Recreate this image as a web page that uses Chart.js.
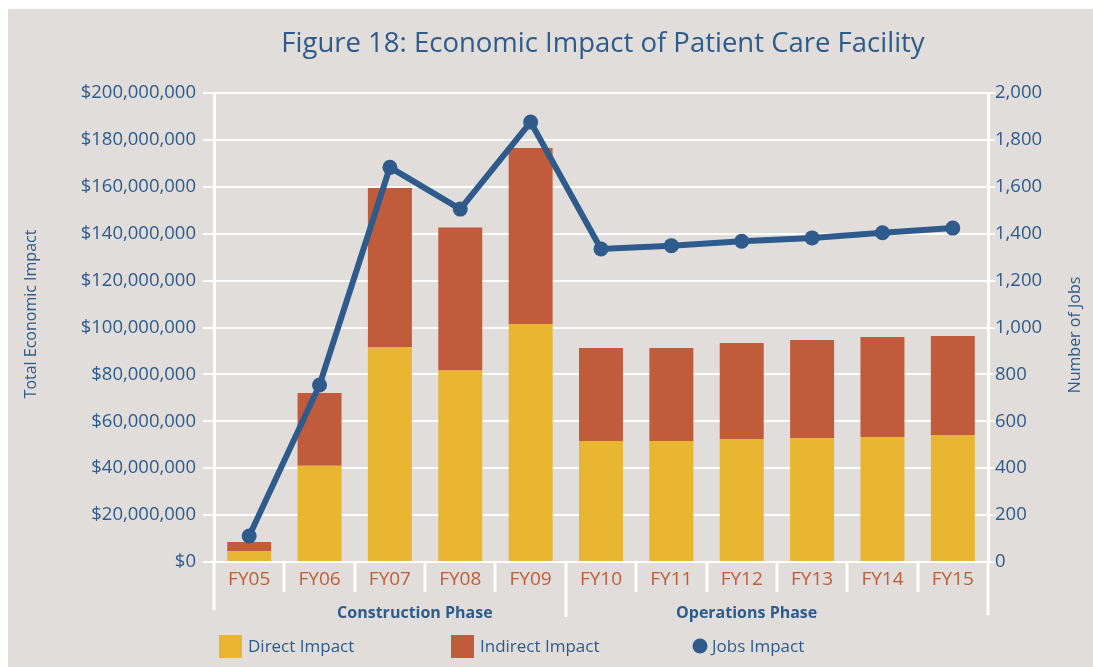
<!DOCTYPE html>
<html>
<head>
<meta charset="utf-8">
<script src="https://cdn.jsdelivr.net/npm/chart.js@4/dist/chart.umd.min.js"></script>
<style>
    html, body { margin: 0; padding: 0; background: #fff; }
    #wrap { position: absolute; left: 0; top: 0; width: 1093px; height: 667px; }
</style>
</head>
<body>
<div id="wrap"><canvas id="mainChart" width="1093" height="667"></canvas></div>
<script>
// values
const categories = ['FY05', 'FY06', 'FY07', 'FY08', 'FY09', 'FY10', 'FY11', 'FY12', 'FY13', 'FY14', 'FY15'];
const directImpact = [4700000, 41000000, 91700000, 81700000, 101500000, 51600000, 51600000, 52500000, 52900000, 53300000, 54200000];
const indirectImpact = [3800000, 31100000, 67800000, 60900000, 75000000, 39700000, 39700000, 40900000, 41800000, 42600000, 42200000];
const jobsImpact = [111, 755, 1683, 1505, 1876, 1335, 1349, 1368, 1382, 1404, 1424];
const dollarTicks = [0, 200000000, 20000000];   // min, max, step
const jobTicks = [0, 2000, 200];
const phases = [
    { label: 'Construction Phase', at: 2.355 },
    { label: 'Operations Phase', at: 7.07 }
];

const BG = '#E0DDDA';
const BLUE = '#2E5B8C';
const YELLOW = '#E9B632';
const RED = '#C05C3B';
const FONT = "'Open Sans', 'Noto Sans', sans-serif";

// background, title, axis titles, category dividers, phase labels and legend
const decorPlugin = {
    id: 'decor',
    beforeDraw(chart) {
        const ctx = chart.ctx;
        ctx.save();
        ctx.fillStyle = BG;
        ctx.fillRect(8, 9, chart.width - 8, chart.height - 9);
        ctx.restore();
    },
    afterDraw(chart) {
        const ctx = chart.ctx;
        const area = chart.chartArea;
        const x = chart.scales.x;
        const step = x.getPixelForValue(1) - x.getPixelForValue(0);
        ctx.save();

        // title
        ctx.fillStyle = BLUE;
        ctx.font = `27.5px ${FONT}`;
        ctx.textAlign = 'center';
        ctx.textBaseline = 'alphabetic';
        ctx.fillText('Figure 18: Economic Impact of Patient Care Facility', 603, 52);

        // axis titles (both read bottom to top)
        ctx.font = `16px ${FONT}`;
        ctx.textBaseline = 'middle';
        ctx.save();
        ctx.translate(31, 314);
        ctx.rotate(-Math.PI / 2);
        ctx.fillText('Total Economic Impact', 0, 0);
        ctx.restore();
        ctx.save();
        ctx.translate(1075, 335);
        ctx.rotate(-Math.PI / 2);
        ctx.fillText('Number of Jobs', 0, 0);
        ctx.restore();

        // dividers under the plot
        ctx.strokeStyle = '#fff';
        ctx.lineWidth = 3;
        for (let i = -1; i < categories.length; i++) {
            const px = Math.round(x.getPixelForValue(i) + step / 2);
            let bottom = area.bottom + 30;
            if (i === -1) bottom = area.bottom + 48;
            if (i === 4) bottom = area.bottom + 55;
            if (i === categories.length - 1) bottom = area.bottom + 53;
            ctx.beginPath();
            ctx.moveTo(px, area.bottom);
            ctx.lineTo(px, bottom);
            ctx.stroke();
        }

        // phase labels
        ctx.fillStyle = BLUE;
        ctx.font = `bold 16px ${FONT}`;
        ctx.textBaseline = 'alphabetic';
        phases.forEach(p => {
            ctx.fillText(p.label, x.getPixelForValue(p.at), 618);
        });

        // legend
        const ds = chart.data.datasets;
        ctx.font = `17px ${FONT}`;
        ctx.textAlign = 'left';
        ctx.fillStyle = ds[0].backgroundColor;
        ctx.fillRect(219, 635, 23, 23);
        ctx.fillStyle = BLUE;
        ctx.fillText(ds[0].label, 248, 652);
        ctx.fillStyle = ds[1].backgroundColor;
        ctx.fillRect(451, 635, 23, 23);
        ctx.fillStyle = BLUE;
        ctx.fillText(ds[1].label, 480, 652);
        ctx.fillStyle = ds[2].borderColor;
        ctx.beginPath();
        ctx.arc(700, 646, 7.5, 0, Math.PI * 2);
        ctx.fill();
        ctx.fillStyle = BLUE;
        ctx.fillText(ds[2].label, 712, 652);

        ctx.restore();
    }
};

const mainCtx = document.getElementById('mainChart').getContext('2d');
new Chart(mainCtx, {
    data: {
        labels: categories,
        datasets: [
            {
                type: 'bar',
                label: 'Direct Impact',
                data: directImpact,
                backgroundColor: YELLOW,
                yAxisID: 'y',
                barPercentage: 0.625,
                categoryPercentage: 1,
                order: 2
            },
            {
                type: 'bar',
                label: 'Indirect Impact',
                data: indirectImpact,
                backgroundColor: RED,
                yAxisID: 'y',
                barPercentage: 0.625,
                categoryPercentage: 1,
                order: 2
            },
            {
                type: 'line',
                label: 'Jobs Impact',
                data: jobsImpact,
                borderColor: BLUE,
                backgroundColor: BLUE,
                borderWidth: 6,
                pointRadius: 7.5,
                pointBackgroundColor: BLUE,
                pointBorderWidth: 0,
                tension: 0,
                yAxisID: 'y1',
                order: 0
            }
        ]
    },
    options: {
        responsive: false,
        animation: false,
        layout: { padding: { top: 93, left: 0, right: 0, bottom: 0 } },
        plugins: {
            legend: { display: false },
            title: { display: false },
            tooltip: { enabled: false }
        },
        scales: {
            x: {
                stacked: true,
                grid: { display: false, drawTicks: false },
                border: { display: false },
                ticks: {
                    color: RED,
                    font: { family: FONT, size: 19 },
                    padding: 6,
                    maxRotation: 0
                },
                afterFit(scale) { scale.height = 105; }
            },
            y: {
                stacked: true,
                position: 'left',
                min: dollarTicks[0],
                max: dollarTicks[1],
                grid: { color: '#fff', lineWidth: 2, tickLength: 11 },
                border: { color: '#fff', width: 3 },
                ticks: {
                    stepSize: dollarTicks[2],
                    color: BLUE,
                    font: { family: FONT, size: 18.5 },
                    padding: 7,
                    callback: v => '$' + Number(v).toLocaleString('en-US')
                },
                afterFit(scale) { scale.width = 214; }
            },
            y1: {
                position: 'right',
                min: jobTicks[0],
                max: jobTicks[1],
                grid: { drawOnChartArea: false, color: '#fff', lineWidth: 2, tickLength: 7 },
                border: { color: '#fff', width: 3 },
                ticks: {
                    stepSize: jobTicks[2],
                    color: BLUE,
                    font: { family: FONT, size: 18.5 },
                    padding: 0,
                    callback: v => Number(v).toLocaleString('en-US')
                },
                afterFit(scale) { scale.width = 105; }
            }
        }
    },
    plugins: [decorPlugin]
});
</script>
</body>
</html>
